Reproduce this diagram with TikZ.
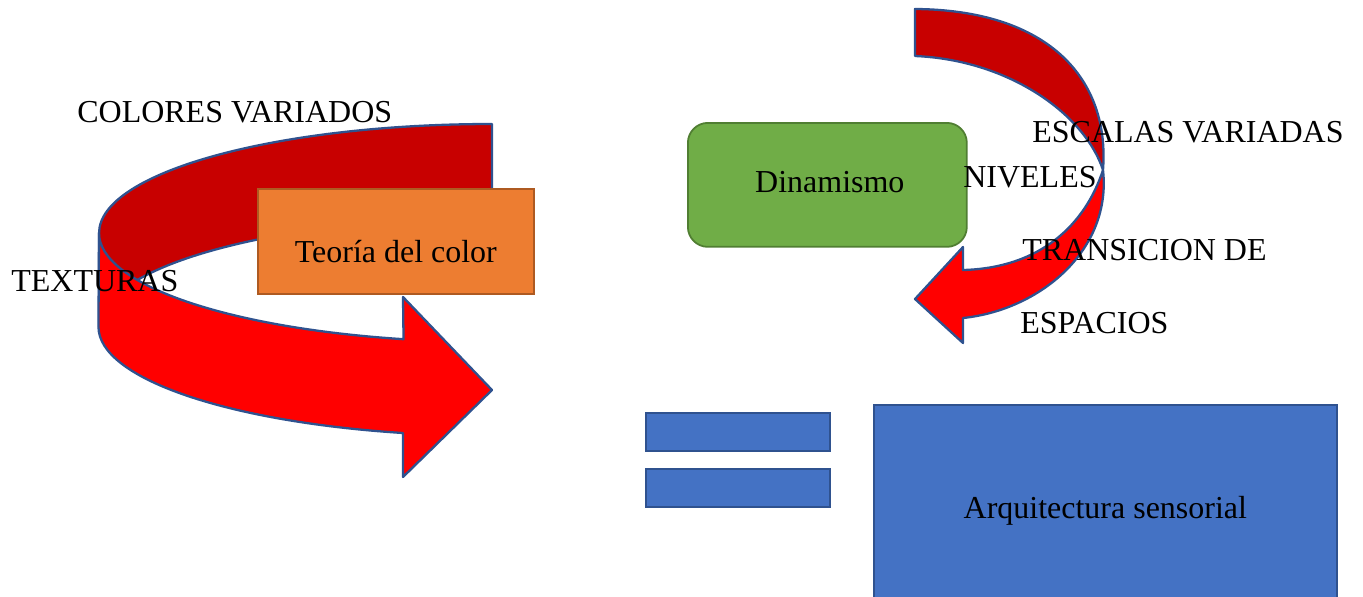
\documentclass[tikz,border=0pt]{standalone}
\usepackage{fontspec}
\setmainfont{Liberation Serif}
\usepackage{tikz}
\usetikzlibrary{positioning}

\definecolor{darkred}{HTML}{C80000}
\definecolor{brightred}{HTML}{FF0000}
\definecolor{outlineblue}{HTML}{2F528F}
\definecolor{boxorange}{HTML}{ED7D31}
\definecolor{orangeline}{HTML}{AE5A21}
\definecolor{boxgreen}{HTML}{70AD47}
\definecolor{greenline}{HTML}{507E32}
\definecolor{boxblue}{HTML}{4472C4}

\begin{document}
\begin{tikzpicture}[x=0.02cm, y=0.02cm, font=\fontsize{18.2}{22}\selectfont,
  band/.style={draw=outlineblue, line width=1.3pt, line join=round},
  ring/.style={x radius=7.86cm, y radius=2.18cm},
  word/.style={inner sep=0pt, anchor = base west},
  bar/.style={draw=outlineblue, fill=boxblue, line width=1pt, minimum width=3.68cm, minimum height=0.76cm, inner sep=0pt}]
\useasboundingbox (0,0) rectangle (1363,-596);
\clip (0,0) rectangle (1363,-596);

% left u-turn arrow
\filldraw[band, fill=darkred] (492,-124) arc[ring, start angle=90, end angle=180] -- (99,-327) arc[ring, start angle=180, end angle=90] -- cycle;
\filldraw[band, fill=brightred] (99,-233) arc[ring, start angle=180, end angle=257] -- (403,-297) -- (492,-390) -- (403,-477) -- (403,-433) arc[ring, start angle=257, end angle=180] -- cycle;

% right curved arrow
\filldraw[band, fill=darkred] (915,-9) .. controls (1050,-10) and (1110,-80) .. (1103,-170) .. controls (1085,-115) and (1010,-60) .. (915,-56) -- cycle;
\filldraw[band, fill=brightred] (1103,-170) .. controls (1112,-250) and (1040,-310) .. (963,-318) -- (963,-343) -- (915,-299) -- (963,-247) -- (963,-270) .. controls (1040,-268) and (1085,-225) .. (1103,-170) -- cycle;

\node[draw=orangeline, fill=boxorange, line width=1pt, anchor = north west, minimum width=5.52cm, text height=1.48cm, text depth=0.62cm, inner sep=0pt] (teoria) at (257,-188) {Teoría del color};
\node[draw=greenline, fill=boxgreen, line width=1pt, rounded corners=0.4cm, anchor = north west, minimum width=5.58cm, text height=1.4cm, text depth=1.08cm, inner sep=0pt] (dinamismo) at (687,-122) {\hspace{0.1cm}Dinamismo};

\node[bar, anchor = north west] (igualA) at (645,-412) {};
\node[bar, below = 0.32cm of igualA] (igualB) {};
\node[draw=outlineblue, fill=boxblue, line width=1pt, anchor = north west, minimum width=9.26cm, text height=2.28cm, text depth=1.72cm, inner sep=0pt] (arquitectura) at (873,-404) {Arquitectura sensorial};

\node[word] (colores) at (77,-122) {COLORES VARIADOS};
\node[word] (texturas) at (11,-291) {TEXTURAS};
\node[word] (escalas) at (1032,-142) {ESCALAS VARIADAS};
\node[word] (niveles) at (963,-187) {NIVELES};
\node[word] (transicion) at (1022,-260) {TRANSICION DE};
\node[word] (espacios) at (1020,-333) {ESPACIOS};
\end{tikzpicture}
\end{document}
